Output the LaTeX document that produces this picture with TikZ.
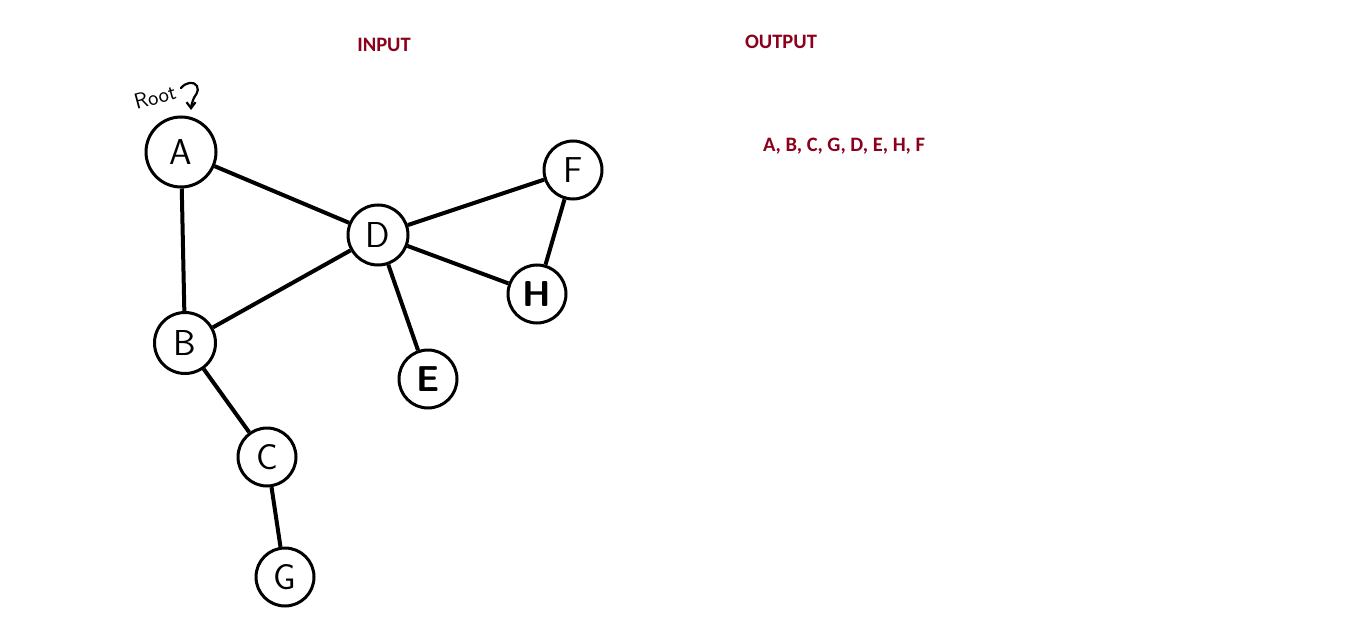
\documentclass[tikz,border=0pt]{standalone}
\usepackage{fontspec}
\newfontfamily\labelfont{Carlito}
\usepackage{tikz}
\usetikzlibrary{arrows.meta,positioning}
\definecolor{darkmaroon}{RGB}{139,0,28}

\begin{document}
\begin{tikzpicture}[
		x=1pt, y=-1pt,
		vertex/.style={circle, draw, line width=3pt, fill=white, inner sep=0pt, font=\sffamily\fontsize{36}{36}\selectfont},
		heading/.style={text=darkmaroon, font=\labelfont\bfseries\fontsize{20.5}{20.5}\selectfont},
		every edge/.style={draw, line width=4pt},
		>={Straight Barb[length=6pt, width=9pt]}
		]

		\useasboundingbox (0,0) rectangle (1359,639);

		% --- sommets ---
		\node[vertex, minimum size=70pt] (A) at (181,152) {A};
		\node[vertex, minimum size=60pt] (D) at (378,235) {D};
		\node[vertex, minimum size=58pt] (F) at (573,170) {F};
		\node[vertex, minimum size=58pt] (H) at (537,294) {\bfseries H};
		\node[vertex, minimum size=61pt] (B) at (185,343) {B};
		\node[vertex, minimum size=58pt] (E) at (428,379) {\bfseries E};
		\node[vertex, minimum size=58pt] (C) at (267,457) {C};
		\node[vertex, minimum size=58pt] (G) at (285,577) {G};

		% --- arêtes ---
		\path (A) edge (D);
		\path (A) edge (B);
		\path (B) edge (D);
		\path (D) edge (F);
		\path (D) edge (H);
		\path (F) edge (H);
		\path (D) edge (E);
		\path (B) edge (C);
		\path (C) edge (G);

		% --- racine ---
		\node[rotate=15, font=\sffamily\fontsize{22}{22}\selectfont] (root) at (155,97) {Root};
		\coordinate (rootstart) at (181,88);
		\coordinate (rootend) at (191,110);
		\draw[line width=2.2pt, line cap=round, ->] (rootstart) .. controls (186,82) and (194,81) .. (197,86)
			.. controls (200,92) and (194,96) .. (193,100) .. controls (192,104) and (191,106) .. (rootend);

		% --- textes ---
		\node[heading] (input) at (384,45) {INPUT};
		\node[heading] (output) at (781,42) {OUTPUT};
		\node[heading] (order) at (844,146) {A, B, C, G, D, E, H, F};

	\end{tikzpicture}
\end{document}
